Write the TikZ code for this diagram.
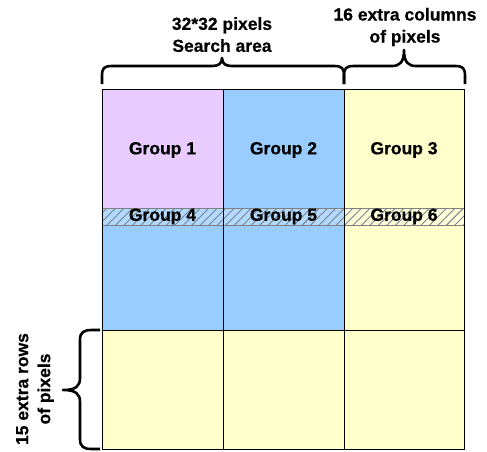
\documentclass[tikz,border=0pt]{standalone}
\usepackage{fontspec}
\setmainfont{Liberation Sans}
\newfontfamily\lblfont{Liberation Sans Bold}[FakeBold=0.5]
\usetikzlibrary{patterns.meta}
\definecolor{pinkc}{RGB}{232,204,255}
\definecolor{bluec}{RGB}{153,204,255}
\definecolor{yelc}{RGB}{255,255,204}
\definecolor{hatchc}{RGB}{120,130,140}
\tikzset{
  lbl/.style={font=\lblfont\fontsize{17.5}{22}\selectfont, align=center, inner sep=0pt},
  cellline/.style={draw=black, line width=0.8pt},
  bandhatch/.style={pattern={Lines[angle=45,distance=6pt,line width=0.9pt]}, pattern color=hatchc},
  bracestyle/.style={draw, line width=2.6pt, line cap=butt, line join=round},
}
\begin{document}
\begin{tikzpicture}[x=1pt,y=-1pt]
\useasboundingbox (0,0) rectangle (487,451);
% fills
\fill[pinkc] (102,89) rectangle (223,208);
\fill[bluec] (102,208) rectangle (223,330);
\fill[bluec] (223,89) rectangle (344,330);
\fill[yelc] (344,89) rectangle (464,330);
\fill[yelc] (102,330) rectangle (464,449);
% band
\fill[white!25!bluec] (102,208) rectangle (344,225);
\fill[white!30!yelc] (344,208) rectangle (464,225);
\fill[bandhatch] (102,208) rectangle (464,225);
\draw[draw=gray, line width=0.5pt] (102,208) -- (464,208) (102,225) -- (464,225);
% grid lines
\draw[cellline] (102,89) rectangle (464,449);
\draw[cellline] (223,89) -- (223,330);
\draw[cellline] (344,89) -- (344,449);
\draw[cellline] (223,330) -- (223,449);
\draw[cellline] (102,330) -- (464,330);
% labels
\node[lbl] (g1) at (162.5,150) {Group 1};
\node[lbl] (g2) at (283.5,150) {Group 2};
\node[lbl] (g3) at (404,150) {Group 3};
\node[lbl] (g4) at (162.5,216.5) {Group 4};
\node[lbl] (g5) at (283.5,216.5) {Group 5};
\node[lbl] (g6) at (404,216.5) {Group 6};
% braces
\coordinate (b1tip) at (222,58);
\coordinate (b2tip) at (404,50);
\coordinate (b3tip) at (63,390);
\draw[bracestyle] (102,84) -- (102,76) .. controls (102,68) and (104,66) .. (112,66)
  -- (212,66) .. controls (218,66) and (222,64) .. (b1tip)
  .. controls (222,64) and (226,66) .. (232,66)
  -- (334,66) .. controls (342,66) and (344,68) .. (344,76) -- (344,84);
\draw[bracestyle] (344,84) -- (344,76) .. controls (344,68) and (346,66) .. (354,66)
  -- (392,66) .. controls (400,66) and (404,62) .. (b2tip)
  .. controls (404,62) and (408,66) .. (416,66)
  -- (455,66) .. controls (463,66) and (465,68) .. (465,76) -- (465,84);
\draw[bracestyle] (100,330) -- (92,330) .. controls (84,330) and (80,332) .. (80,340)
  -- (80,378) .. controls (80,386) and (76,390) .. (b3tip)
  .. controls (76,390) and (80,394) .. (80,402)
  -- (80,439) .. controls (80,447) and (84,449) .. (92,449) -- (100,449);
\node[lbl] (t1) at (222,34.6) {32*32 pixels\\Search area};
\node[lbl] (t2) at (405,27) {16 extra columns\\of pixels};
\node[lbl, rotate=90] (t3) at (35,389) {15 extra rows\\of pixels};
\end{tikzpicture}
\end{document}
